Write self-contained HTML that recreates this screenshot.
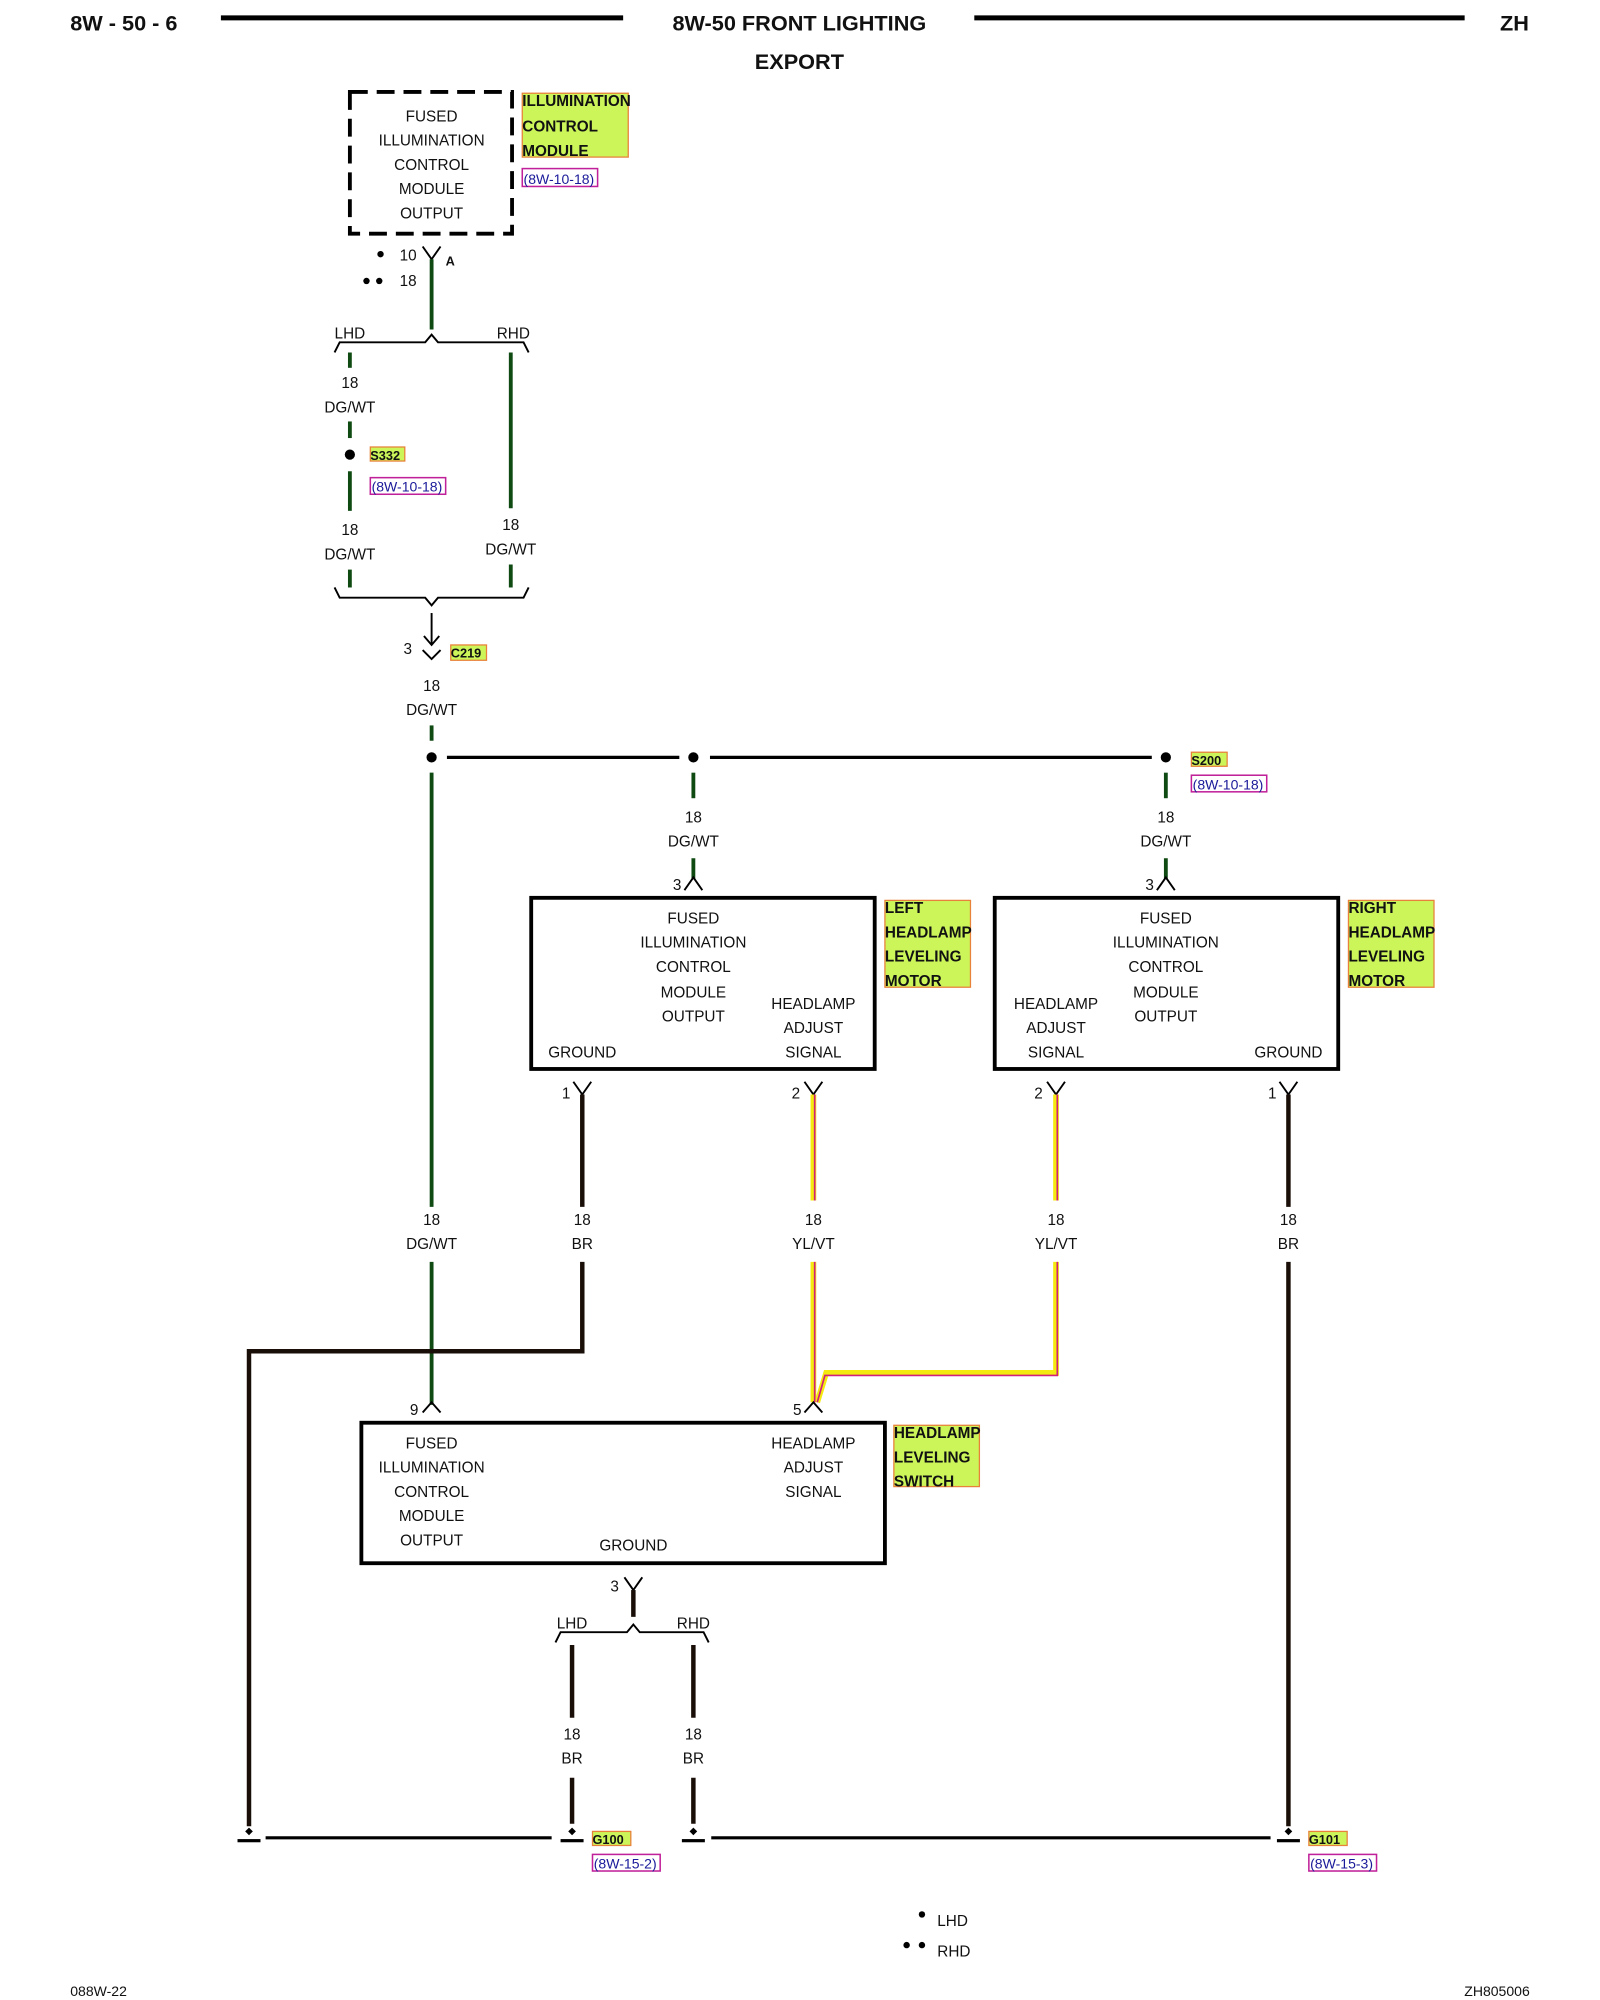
<!DOCTYPE html>
<html><head><meta charset="utf-8"><style>
html,body{margin:0;padding:0;background:#fff;}
svg{display:block;}
text{font-family:"Liberation Sans",sans-serif;font-size:12px;fill:#111;}
.c{text-anchor:middle;}
.b{font-weight:bold;}
.hl{fill:#ccf55a;stroke:#e8823a;stroke-width:1;}
.ref{fill:none;stroke:#c0209a;stroke-width:1.2;}
.rt{fill:#1a1a9a;font-size:11px;}
.g{stroke:#0e4a12;stroke-width:3;fill:none;}
.k{stroke:#1a0f08;stroke-width:3.5;fill:none;}
.t{stroke:#000;stroke-width:1.5;fill:none;}
</style></head><body>
<svg width="1600" height="2000" viewBox="0 0 1253 1566" preserveAspectRatio="none" xmlns="http://www.w3.org/2000/svg">
<!-- header -->
<text x="55" y="24" class="b" style="font-size:17px">8W - 50 - 6</text>
<line x1="173" y1="14" x2="488" y2="14" stroke="#000" stroke-width="4"/>
<text x="626" y="24" class="b c" style="font-size:17px">8W-50 FRONT LIGHTING</text>
<line x1="763" y1="14" x2="1147" y2="14" stroke="#000" stroke-width="4"/>
<text x="1186" y="24" class="b c" style="font-size:17px">ZH</text>
<text x="626" y="54" class="b c" style="font-size:17px">EXPORT</text>

<!-- top dashed module -->
<rect x="274" y="72" width="127" height="111" fill="none" stroke="#000" stroke-width="3" stroke-dasharray="14,7"/>
<text x="338" y="95" class="c">FUSED</text><text x="338" y="114" class="c">ILLUMINATION</text><text x="338" y="133" class="c">CONTROL</text><text x="338" y="152" class="c">MODULE</text><text x="338" y="171" class="c">OUTPUT</text>
<rect x="409" y="73" width="83" height="50" class="hl"/>
<text x="409" y="83" class="b">ILLUMINATION</text><text x="409" y="103" class="b">CONTROL</text><text x="409" y="122" class="b">MODULE</text>
<rect x="409" y="132" width="59" height="14" class="ref"/><text x="410" y="144" class="rt">(8W-10-18)</text>

<polyline points="331,193 338,203 345,193" class="t"/>
<text x="313" y="204">10</text><text x="349" y="208" class="b" style="font-size:10px">A</text>
<text x="313" y="224">18</text>
<circle cx="298" cy="199" r="2.5"/><circle cx="287" cy="220" r="2.5"/><circle cx="297" cy="220" r="2.5"/>
<line x1="338" y1="203" x2="338" y2="258" class="g"/>
<polyline points="262,276 266,268 333,268 338,262 343,268 410,268 414,276" class="t"/>
<text x="262" y="265">LHD</text><text x="389" y="265">RHD</text>

<line x1="274" y1="276" x2="274" y2="288" class="g"/>
<text x="274" y="304" class="c">18</text><text x="274" y="323" class="c">DG/WT</text>
<line x1="274" y1="330" x2="274" y2="343" class="g"/>
<circle cx="274" cy="356" r="4"/>
<rect x="290" y="350" width="27" height="11" class="hl"/><text x="290" y="360" class="b" style="font-size:10px">S332</text>
<rect x="290" y="374" width="59" height="13" class="ref"/><text x="291" y="385" class="rt">(8W-10-18)</text>
<line x1="274" y1="369" x2="274" y2="400" class="g"/>
<text x="274" y="419" class="c">18</text><text x="274" y="438" class="c">DG/WT</text>
<line x1="274" y1="446" x2="274" y2="460" class="g"/>
<line x1="400" y1="276" x2="400" y2="398" class="g"/>
<text x="400" y="415" class="c">18</text><text x="400" y="434" class="c">DG/WT</text>
<line x1="400" y1="442" x2="400" y2="460" class="g"/>
<polyline points="262,460 266,468 333,468 338,474 343,468 410,468 414,460" class="t"/>

<line x1="338" y1="480" x2="338" y2="505" class="t" stroke-width="2"/>
<polyline points="332,498 338,505 344,498" class="t" stroke-width="2"/>
<polyline points="331,509 338,516 345,509" class="t"/>
<text x="316" y="512">3</text>
<rect x="353" y="505" width="28" height="12" class="hl"/><text x="353" y="515" class="b" style="font-size:10px">C219</text>
<text x="338" y="541" class="c">18</text><text x="338" y="560" class="c">DG/WT</text>
<line x1="338" y1="568" x2="338" y2="580" class="g"/>
<circle cx="338" cy="593" r="4"/>
<line x1="350" y1="593" x2="532" y2="593" stroke="#000" stroke-width="2.5"/>
<circle cx="543" cy="593" r="4"/>
<line x1="556" y1="593" x2="902" y2="593" stroke="#000" stroke-width="2.5"/>
<circle cx="913" cy="593" r="4"/>
<rect x="933" y="589" width="28" height="11" class="hl"/><text x="933" y="599" class="b" style="font-size:10px">S200</text>
<rect x="933" y="607" width="59" height="13" class="ref"/><text x="934" y="618" class="rt">(8W-10-18)</text>

<line x1="338" y1="605" x2="338" y2="945" class="g"/>
<text x="338" y="959" class="c">18</text><text x="338" y="978" class="c">DG/WT</text>
<line x1="338" y1="988" x2="338" y2="1100" class="g"/>

<line x1="543" y1="605" x2="543" y2="625" class="g"/>
<text x="543" y="644" class="c">18</text><text x="543" y="663" class="c">DG/WT</text>
<line x1="543" y1="672" x2="543" y2="688" class="g"/>
<polyline points="536,697 543,687 550,697" class="t"/><text x="527" y="697">3</text>
<line x1="913" y1="605" x2="913" y2="625" class="g"/>
<text x="913" y="644" class="c">18</text><text x="913" y="663" class="c">DG/WT</text>
<line x1="913" y1="672" x2="913" y2="688" class="g"/>
<polyline points="906,697 913,687 920,697" class="t"/><text x="897" y="697">3</text>

<!-- left motor -->
<rect x="416" y="703" width="269" height="134" fill="none" stroke="#000" stroke-width="3"/>
<text x="543" y="723" class="c">FUSED</text><text x="543" y="742" class="c">ILLUMINATION</text><text x="543" y="761" class="c">CONTROL</text><text x="543" y="781" class="c">MODULE</text><text x="543" y="800" class="c">OUTPUT</text>
<text x="637" y="790" class="c">HEADLAMP</text><text x="637" y="809" class="c">ADJUST</text><text x="637" y="828" class="c">SIGNAL</text>
<text x="456" y="828" class="c">GROUND</text>
<rect x="693" y="705" width="67" height="68" class="hl"/>
<text x="693" y="715" class="b">LEFT</text><text x="693" y="734" class="b">HEADLAMP</text><text x="693" y="753" class="b">LEVELING</text><text x="693" y="772" class="b">MOTOR</text>
<!-- right motor -->
<rect x="779" y="703" width="269" height="134" fill="none" stroke="#000" stroke-width="3"/>
<text x="913" y="723" class="c">FUSED</text><text x="913" y="742" class="c">ILLUMINATION</text><text x="913" y="761" class="c">CONTROL</text><text x="913" y="781" class="c">MODULE</text><text x="913" y="800" class="c">OUTPUT</text>
<text x="827" y="790" class="c">HEADLAMP</text><text x="827" y="809" class="c">ADJUST</text><text x="827" y="828" class="c">SIGNAL</text>
<text x="1009" y="828" class="c">GROUND</text>
<rect x="1056" y="705" width="67" height="68" class="hl"/>
<text x="1056" y="715" class="b">RIGHT</text><text x="1056" y="734" class="b">HEADLAMP</text><text x="1056" y="753" class="b">LEVELING</text><text x="1056" y="772" class="b">MOTOR</text>

<!-- motor connectors -->
<polyline points="449,847 456,857 463,847" class="t"/><text x="440" y="860">1</text>
<polyline points="630,847 637,857 644,847" class="t"/><text x="620" y="860">2</text>
<polyline points="820,847 827,857 834,847" class="t"/><text x="810" y="860">2</text>
<polyline points="1002,847 1009,857 1016,847" class="t"/><text x="993" y="860">1</text>

<line x1="456" y1="857" x2="456" y2="945" class="k"/>
<line x1="637" y1="857" x2="637" y2="940" stroke="#f4ea10" stroke-width="4.5"/><line x1="638" y1="857" x2="638" y2="940" stroke="#d0207a" stroke-width="1.3"/>
<line x1="827" y1="857" x2="827" y2="940" stroke="#f4ea10" stroke-width="4.5"/><line x1="828" y1="857" x2="828" y2="940" stroke="#d0207a" stroke-width="1.3"/>
<line x1="1009" y1="857" x2="1009" y2="945" class="k"/>

<text x="456" y="959" class="c">18</text><text x="456" y="978" class="c">BR</text>
<text x="637" y="959" class="c">18</text><text x="637" y="978" class="c">YL/VT</text>
<text x="827" y="959" class="c">18</text><text x="827" y="978" class="c">YL/VT</text>
<text x="1009" y="959" class="c">18</text><text x="1009" y="978" class="c">BR</text>

<polyline points="456,988 456,1058 195,1058 195,1430" class="k"/>
<polyline points="637,988 637,1098" stroke="#f4ea10" stroke-width="4.5" fill="none"/>
<polyline points="827,988 827,1075 647,1075 640,1098" stroke="#f4ea10" stroke-width="4.5" fill="none"/>
<polyline points="638,988 638,1098" stroke="#d0207a" stroke-width="1.3" fill="none"/>
<polyline points="828,988 828,1077 646,1077 640,1098" stroke="#d0207a" stroke-width="1.3" fill="none"/>
<line x1="1009" y1="988" x2="1009" y2="1430" class="k"/>

<polyline points="331,1106 338,1098 345,1106" class="t"/><text x="321" y="1108">9</text>
<polyline points="630,1106 637,1098 644,1106" class="t"/><text x="621" y="1108">5</text>

<!-- switch -->
<rect x="283" y="1114" width="410" height="110" fill="none" stroke="#000" stroke-width="3"/>
<text x="338" y="1134" class="c">FUSED</text><text x="338" y="1153" class="c">ILLUMINATION</text><text x="338" y="1172" class="c">CONTROL</text><text x="338" y="1191" class="c">MODULE</text><text x="338" y="1210" class="c">OUTPUT</text>
<text x="637" y="1134" class="c">HEADLAMP</text><text x="637" y="1153" class="c">ADJUST</text><text x="637" y="1172" class="c">SIGNAL</text>
<text x="496" y="1214" class="c">GROUND</text>
<rect x="700" y="1116" width="67" height="48" class="hl"/>
<text x="700" y="1126" class="b">HEADLAMP</text><text x="700" y="1145" class="b">LEVELING</text><text x="700" y="1164" class="b">SWITCH</text>

<polyline points="489,1235 496,1245 503,1235" class="t"/><text x="478" y="1246">3</text>
<line x1="496" y1="1245" x2="496" y2="1266" class="k"/>
<polyline points="435,1286 439,1278 491,1278 496,1272 501,1278 551,1278 555,1286" class="t"/>
<text x="436" y="1275">LHD</text><text x="530" y="1275">RHD</text>
<line x1="448" y1="1288" x2="448" y2="1345" class="k"/>
<line x1="543" y1="1288" x2="543" y2="1345" class="k"/>
<text x="448" y="1362" class="c">18</text><text x="448" y="1381" class="c">BR</text>
<text x="543" y="1362" class="c">18</text><text x="543" y="1381" class="c">BR</text>
<line x1="448" y1="1392" x2="448" y2="1428" class="k"/>
<line x1="543" y1="1392" x2="543" y2="1428" class="k"/>

<!-- grounds -->
<line x1="208" y1="1439" x2="432" y2="1439" stroke="#000" stroke-width="2.5"/>
<line x1="557" y1="1439" x2="995" y2="1439" stroke="#000" stroke-width="2.5"/>
<g fill="#000">
<path d="M195,1431 l3,3 l-3,3 l-3,-3z"/><rect x="186" y="1440" width="18" height="2.5"/>
<path d="M448,1431 l3,3 l-3,3 l-3,-3z"/><rect x="439" y="1440" width="18" height="2.5"/>
<path d="M543,1431 l3,3 l-3,3 l-3,-3z"/><rect x="534" y="1440" width="18" height="2.5"/>
<path d="M1009,1431 l3,3 l-3,3 l-3,-3z"/><rect x="1000" y="1440" width="18" height="2.5"/>
</g>
<rect x="464" y="1434" width="30" height="11" class="hl"/><text x="464" y="1444" class="b" style="font-size:10px">G100</text>
<rect x="464" y="1452" width="53" height="13" class="ref"/><text x="465" y="1463" class="rt">(8W-15-2)</text>
<rect x="1025" y="1434" width="30" height="11" class="hl"/><text x="1025" y="1444" class="b" style="font-size:10px">G101</text>
<rect x="1025" y="1452" width="53" height="13" class="ref"/><text x="1026" y="1463" class="rt">(8W-15-3)</text>

<!-- legend -->
<circle cx="722" cy="1499" r="2.5"/><text x="734" y="1508">LHD</text>
<circle cx="710" cy="1523" r="2.5"/><circle cx="722" cy="1523" r="2.5"/><text x="734" y="1532">RHD</text>

<text x="55" y="1563" style="font-size:11px">088W-22</text>
<text x="1198" y="1563" style="font-size:11px;text-anchor:end">ZH805006</text>
</svg>
</body></html>
